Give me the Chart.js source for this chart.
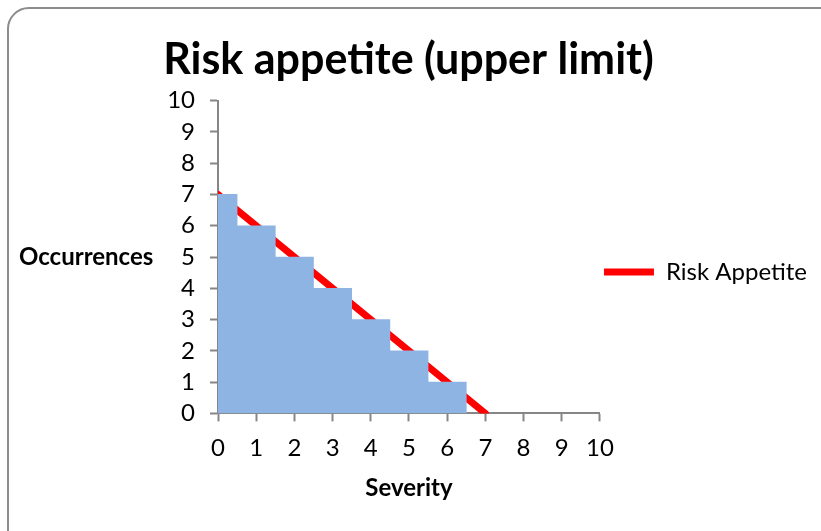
<!DOCTYPE html>
<html>
<head>
<meta charset="utf-8">
<script src="https://cdn.jsdelivr.net/npm/chart.js@4"></script>
<style>
  html, body { margin: 0; padding: 0; background: #fff; overflow: hidden; }
  #frame {
    position: absolute; left: 7px; top: 7px; width: 840px; height: 560px;
    border: 2px solid #8c8c8c; border-radius: 22px; box-sizing: border-box;
  }
  #wrap { position: absolute; left: 0; top: 0; width: 821px; height: 531px; }
</style>
</head>
<body>
<div id="frame"></div>
<div id="wrap"><canvas id="risk-chart" width="821" height="531"></canvas></div>
<script>
// severity steps and the occurrences allowed at each one
const severitySteps = [0, 1, 2, 3, 4, 5, 6];
const occurrences = [7, 6, 5, 4, 3, 2, 1];

// upper limit line end points
const limitSeverity = [0, 7];
const limitOccurrences = [7, 0];

const axisColor = "#868686";
const fontFamily = "Lato, 'Open Sans', sans-serif";

// y axis title is drawn flat, to the left of the tick labels
const flatYTitle = {
    id: "flatYTitle",
    afterDraw(chart) {
        const { ctx, chartArea } = chart;
        ctx.save();
        ctx.font = "bold 24px " + fontFamily;
        ctx.fillStyle = "#000";
        ctx.textAlign = "left";
        ctx.textBaseline = "middle";
        ctx.fillText("Occurrences", 19, (chartArea.top + chartArea.bottom) / 2);
        ctx.restore();
    }
};

document.addEventListener("DOMContentLoaded", () => {
    const ctx = document.getElementById("risk-chart").getContext("2d");

    const axisGrid = {
        display: true,
        offset: false,
        drawOnChartArea: false,
        drawTicks: true,
        tickLength: 8,
        tickColor: axisColor,
        tickWidth: 2,
        color: axisColor
    };

    new Chart(ctx, {
        type: "bar",
        data: {
            datasets: [
                {
                    label: "Steps",
                    data: severitySteps.map((x, i) => ({ x: x, y: occurrences[i] })),
                    backgroundColor: "#8eb4e3",
                    borderWidth: 0,
                    barPercentage: 1,
                    categoryPercentage: 1,
                    order: 0
                },
                {
                    type: "line",
                    label: "Risk Appetite",
                    data: limitSeverity.map((x, i) => ({ x: x, y: limitOccurrences[i] })),
                    borderColor: "#ff0000",
                    backgroundColor: "#ff0000",
                    borderWidth: 7,
                    borderCapStyle: "round",
                    pointRadius: 0,
                    fill: false,
                    order: 1
                }
            ]
        },
        options: {
            responsive: false,
            animation: false,
            layout: { padding: { left: 0, right: 4, top: 0, bottom: 18 } },
            plugins: {
                tooltip: { enabled: false },
                title: {
                    display: true,
                    text: "Risk appetite (upper limit)",
                    color: "#000",
                    font: { family: fontFamily, size: 43, weight: "bold", lineHeight: 1.2 },
                    padding: { top: 34, bottom: 15 }
                },
                legend: {
                    position: "right",
                    fullSize: false,
                    maxWidth: 240,
                    title: {
                        // empty title only nudges the entry down
                        display: true,
                        text: " ",
                        font: { size: 25, lineHeight: 1.2 },
                        padding: 0
                    },
                    labels: {
                        filter: item => item.text === "Risk Appetite",
                        usePointStyle: true,
                        pointStyle: "line",
                        pointStyleWidth: 50,
                        padding: 4,
                        color: "#000",
                        font: { family: fontFamily, size: 24 }
                    }
                }
            },
            scales: {
                x: {
                    type: "linear",
                    min: 0,
                    max: 10,
                    offset: false,
                    ticks: { stepSize: 1, padding: 12, autoSkip: false, color: "#000", font: { family: fontFamily, size: 24 } },
                    grid: axisGrid,
                    border: { display: true, color: axisColor, width: 2 },
                    title: {
                        display: true,
                        text: "Severity",
                        color: "#000",
                        font: { family: fontFamily, size: 24, weight: "bold", lineHeight: 1.2 },
                        padding: { top: 0, bottom: 10 }
                    }
                },
                y: {
                    min: 0,
                    max: 10,
                    ticks: { stepSize: 1, padding: 15, autoSkip: false, color: "#000", font: { family: fontFamily, size: 24 } },
                    grid: axisGrid,
                    border: { display: true, color: axisColor, width: 2 },
                    afterFit: scale => { scale.width = 218; }
                }
            }
        },
        plugins: [flatYTitle]
    });
});
</script>
</body>
</html>
